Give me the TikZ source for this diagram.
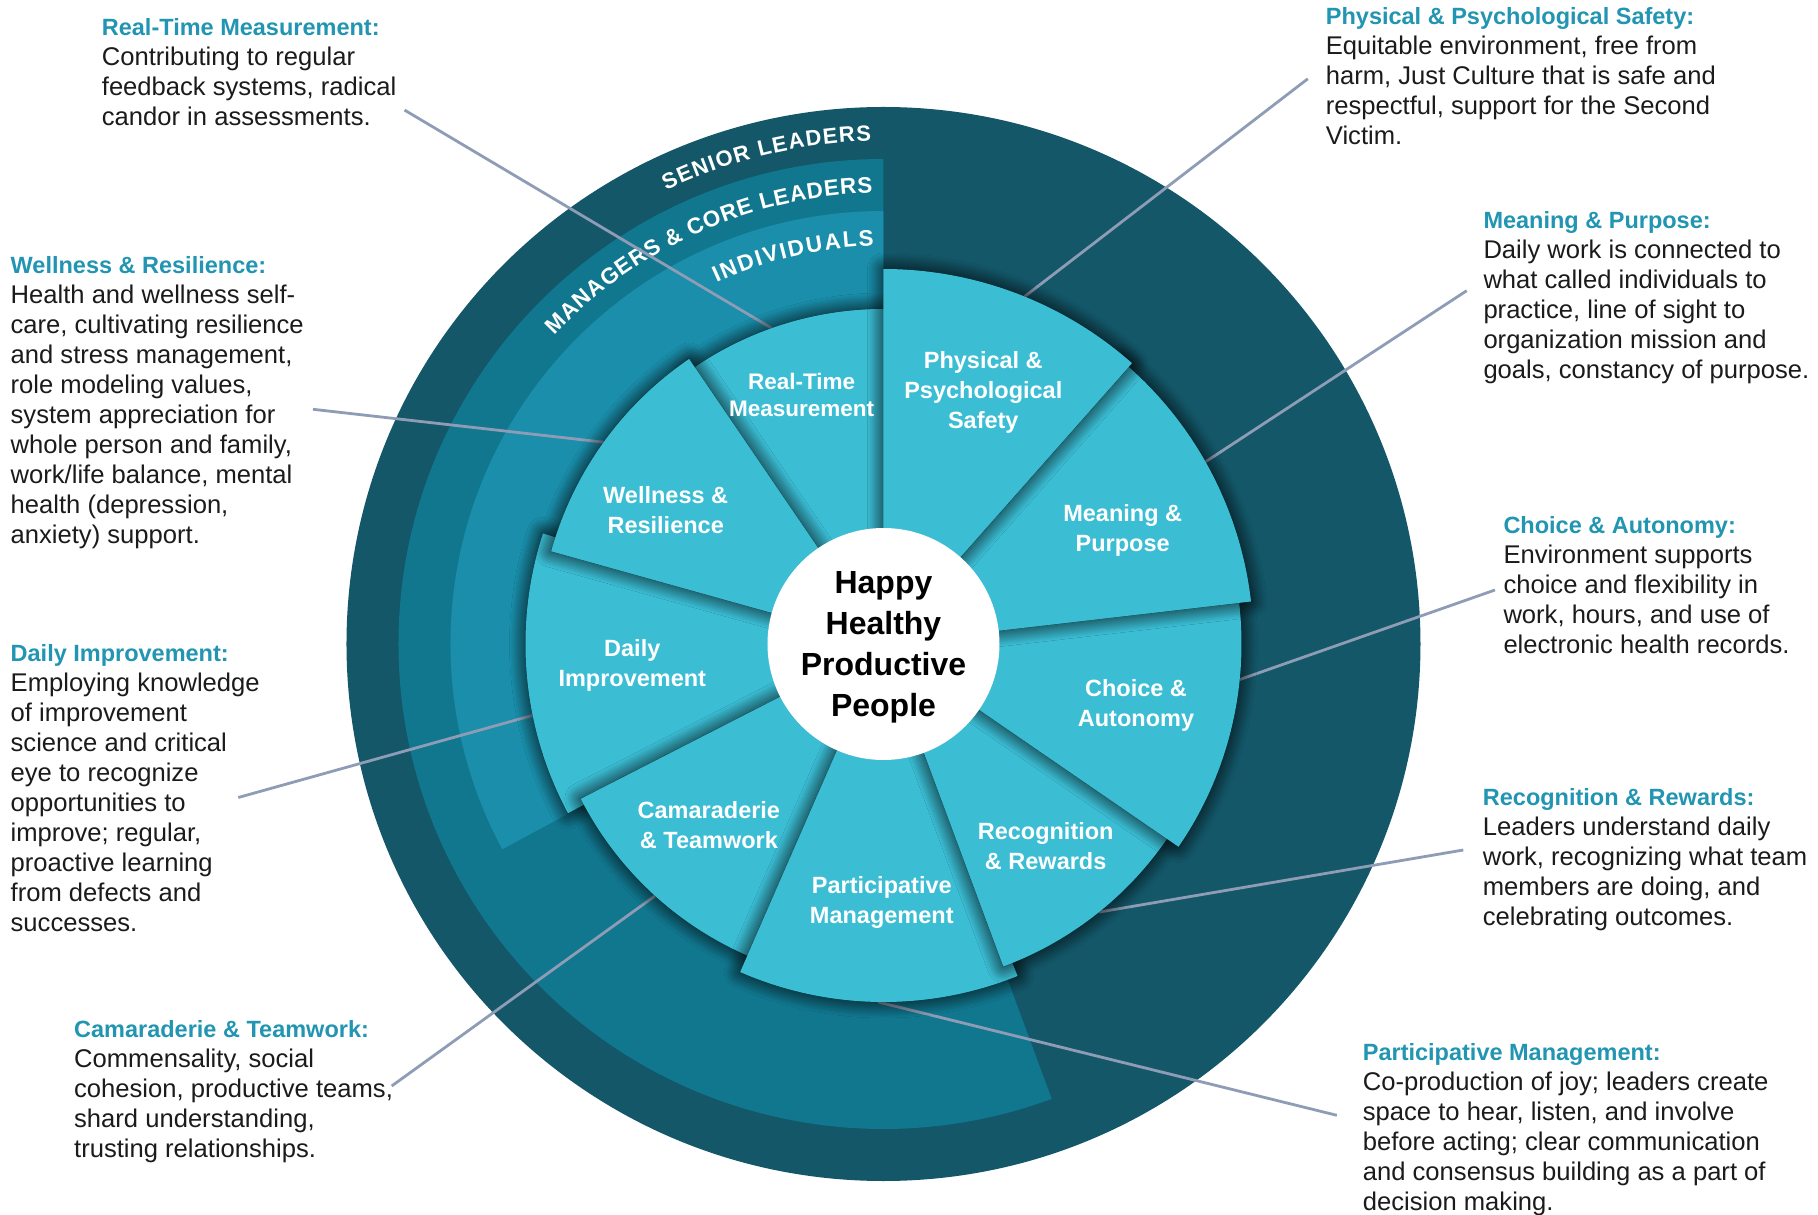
\documentclass[tikz,border=0pt]{standalone}
\usepackage{fontspec}
\setmainfont{Liberation Sans}
\usetikzlibrary{shadows.blur,decorations.text}
\definecolor{seniorcol}{HTML}{135769}
\definecolor{managercol}{HTML}{11778F}
\definecolor{indivcol}{HTML}{1A8EAA}
\definecolor{petalcol}{HTML}{3BBDD4}
\definecolor{headcol}{HTML}{2195B2}
\definecolor{bodycol}{HTML}{1B1B1B}
\definecolor{leadercol}{HTML}{8E9DB5}
\newcommand\calloutTitle[1]{{\color{headcol}\fontsize{23.5}{30}\selectfont\bfseries #1}}

\begin{document}
\begin{tikzpicture}
  [x=1pt,y=1pt,
   petal/.style={fill=petalcol,blur shadow={shadow xshift=0pt,shadow yshift=0pt,shadow blur radius=16pt,
     shadow blur steps=30,shadow opacity=95}},
   leader/.style={draw=leadercol,line width=2.8pt},
   petal label/.style={text=white,font=\fontsize{23.5}{30}\selectfont\bfseries,inner sep=0pt,anchor=base},
   callout/.style={text=bodycol,font=\fontsize{25.6}{30}\selectfont,inner sep=0pt,anchor=base west},
   band text/.style 2 args={decorate,decoration={text along path,text align=fit to path,
     text={|\fontsize{#1}{#1}\selectfont\bfseries\color{white}|#2}}}]
  \useasboundingbox (-883.5,-571) rectangle (934.5,644);
  \fill[white] (-883.5,-571) rectangle (934.5,644);

  % rings
  \fill[seniorcol] (0,0) circle[radius=537];
  \fill[managercol] (0,0) -- (90:485) arc[start angle=90,end angle=290.3,radius=485] -- cycle;
  \fill[indivcol] (0,0) -- (90:433) arc[start angle=90,end angle=208.3,radius=433] -- cycle;
  \path[band text={22}{SENIOR LEADERS}] (115.6:503) arc[start angle=115.6,end angle=91.4,radius=503];
  \path[band text={22.5}{MANAGERS {\&} CORE LEADERS}] (136.8:451) arc[start angle=136.8,end angle=91.4,radius=451];
  \path[band text={22.5}{INDIVIDUALS}] (114.8:398) arc[start angle=114.8,end angle=91.4,radius=398];

  % leader ends
  \coordinate (rtm-lead) at (-478.9,533.9);   \coordinate (rtm-tip) at (109.5:335);
  \coordinate (pps-lead) at (424.3,565.2);    \coordinate (pps-tip) at (67.9:375);
  \coordinate (wr-lead) at (-570.5,234.7);    \coordinate (wr-tip) at (144.2:345);
  \coordinate (mp-lead) at (583.2,353.3);     \coordinate (mp-tip) at (29.5:370);
  \coordinate (di-lead) at (-645.2,-153.5);   \coordinate (di-tip) at (191.5:358);
  \coordinate (ca-lead) at (611.5,54);        \coordinate (ca-tip) at (-5.7:358);
  \coordinate (ct-lead) at (-491.8,-442);     \coordinate (ct-tip) at (227.8:340);
  \coordinate (rr-lead) at (579.8,-206);      \coordinate (rr-tip) at (-51.2:344);
  \coordinate (pm-lead) at (453.3,-471.3);    \coordinate (pm-tip) at (269.1:358);
  \draw[leader] (rtm-lead) -- (rtm-tip);
  \draw[leader] (pps-lead) -- (pps-tip);
  \draw[leader] (wr-lead) -- (wr-tip);
  \draw[leader] (mp-lead) -- (mp-tip);
  \draw[leader] (di-lead) -- (di-tip);
  \draw[leader] (ca-lead) -- (ca-tip);
  \draw[leader] (ct-lead) -- (ct-tip);
  \draw[leader] (rr-lead) -- (rr-tip);
  \draw[leader] (pm-lead) -- (pm-tip);

  % petals, lowest first
  \path[petal] (0,0) -- (162:358) arc[start angle=162,end angle=208.2,radius=358] -- cycle;
  \path[petal] (0,0) -- (207.1:340) arc[start angle=207.1,end angle=248,radius=340] -- cycle;
  \path[petal] (0,0) -- (246.4:358) arc[start angle=246.4,end angle=292,radius=358] -- cycle;
  \path[petal] (0,0) -- (290.4:344) arc[start angle=290.4,end angle=327,radius=344] -- cycle;
  \path[petal] (0,0) -- (-34.5:358) arc[start angle=-34.5,end angle=8,radius=358] -- cycle;
  \path[petal] (0,0) -- (6.6:370) arc[start angle=6.6,end angle=50,radius=370] -- cycle;
  \path[petal] (0,0) -- (88:335) arc[start angle=88,end angle=126,radius=335] -- cycle;
  \path[petal] (0,0) -- (48.5:375) arc[start angle=48.5,end angle=90,radius=375] -- cycle;
  \path[petal] (0,0) -- (124.3:345) arc[start angle=124.3,end angle=164.4,radius=345] -- cycle;

  \node[petal label] (pps) at (99.8,275.7) {\begin{tabular}[t]{@{}c@{}}Physical \&\\Psychological\\Safety\end{tabular}};
  \node[petal label] (mp) at (239.2,122.3) {\begin{tabular}[t]{@{}c@{}}Meaning \&\\Purpose\end{tabular}};
  \node[petal label] (ca) at (252.5,-52.7) {\begin{tabular}[t]{@{}c@{}}Choice \&\\Autonomy\end{tabular}};
  \node[petal label] (rr) at (162.2,-195.3) {\begin{tabular}[t]{@{}c@{}}Recognition\\\& Rewards\end{tabular}};
  \node[petal label] (pm) at (-1.7,-249.3) {\begin{tabular}[t]{@{}c@{}}Participative\\Management\end{tabular}};
  \node[petal label] (ct) at (-174.6,-174.3) {\begin{tabular}[t]{@{}c@{}}Camaraderie\\\& Teamwork\end{tabular}};
  \node[petal label] (di) at (-251.2,-13) {\begin{tabular}[t]{@{}c@{}}Daily\\Improvement\end{tabular}};
  \node[petal label] (wr) at (-217.8,140.4) {\begin{tabular}[t]{@{}c@{}}Wellness \&\\Resilience\end{tabular}};
  \node[petal label,font=\fontsize{22.5}{27}\selectfont\bfseries] (rtm) at (-81.8,254) {\begin{tabular}[t]{@{}c@{}}Real-Time\\Measurement\end{tabular}};

  % hub
  \fill[white] (0,0) circle[radius=116];
  \node[inner sep=0pt,anchor=base,font=\fontsize{32}{41}\selectfont\bfseries] (hub) at (0,50.7)
    {\begin{tabular}[t]{@{}c@{}}Happy\\Healthy\\Productive\\People\end{tabular}};

  % notes
  \node[callout] (rtm-note) at (-781.8,608.3) {\begin{tabular}[t]{@{}l@{}}\calloutTitle{Real-Time Measurement:}\\
    Contributing to regular\\feedback systems, radical\\candor in assessments.\end{tabular}};
  \node[callout] (wr-note) at (-873,370.5) {\begin{tabular}[t]{@{}l@{}}\calloutTitle{Wellness \& Resilience:}\\
    Health and wellness self-\\care, cultivating resilience\\and stress management,\\role modeling values,\\
    system appreciation for\\whole person and family,\\work/life balance, mental\\health (depression,\\anxiety) support.\end{tabular}};
  \node[callout] (di-note) at (-873,-17.5) {\begin{tabular}[t]{@{}l@{}}\calloutTitle{Daily Improvement:}\\
    Employing knowledge\\of improvement\\science and critical\\eye to recognize\\opportunities to\\
    improve; regular,\\proactive learning\\from defects and\\successes.\end{tabular}};
  \node[callout] (ct-note) at (-809.5,-393.9) {\begin{tabular}[t]{@{}l@{}}\calloutTitle{Camaraderie \& Teamwork:}\\
    Commensality, social\\cohesion, productive teams,\\shard understanding,\\trusting relationships.\end{tabular}};
  \node[callout] (pps-note) at (442.2,619) {\begin{tabular}[t]{@{}l@{}}\calloutTitle{Physical \& Psychological Safety:}\\
    Equitable environment, free from\\harm, Just Culture that is safe and\\respectful, support for the Second\\Victim.\end{tabular}};
  \node[callout] (mp-note) at (599.8,415.7) {\begin{tabular}[t]{@{}l@{}}\calloutTitle{Meaning \& Purpose:}\\
    Daily work is connected to\\what called individuals to\\practice, line of sight to\\organization mission and\\
    goals, constancy of purpose.\end{tabular}};
  \node[callout] (ca-note) at (619.8,110) {\begin{tabular}[t]{@{}l@{}}\calloutTitle{Choice \& Autonomy:}\\
    Environment supports\\choice and flexibility in\\work, hours, and use of\\electronic health records.\end{tabular}};
  \node[callout] (rr-note) at (599.2,-161) {\begin{tabular}[t]{@{}l@{}}\calloutTitle{Recognition \& Rewards:}\\
    Leaders understand daily\\work, recognizing what team\\members are doing, and\\celebrating outcomes.\end{tabular}};
  \node[callout] (pm-note) at (479.2,-416.7) {\begin{tabular}[t]{@{}l@{}}\calloutTitle{Participative Management:}\\
    Co-production of joy; leaders create\\space to hear, listen, and involve\\before acting; clear communication\\
    and consensus building as a part of\\decision making.\end{tabular}};
\end{tikzpicture}
\end{document}
